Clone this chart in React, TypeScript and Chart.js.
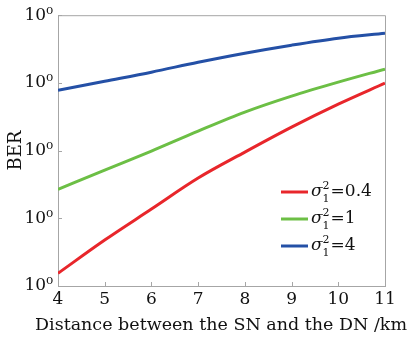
import { useEffect, useRef } from 'react';
import { Chart, registerables } from 'chart.js';
Chart.register(...registerables);

const distances = [4, 5, 6, 7, 8, 9, 10, 11];
const berSigma04 = [1.54e-4, 4.78e-4, 1.37e-3, 3.93e-3, 9.5e-3, 0.0222, 0.0485, 0.099];
const berSigma1 = [0.00267, 0.00515, 0.00984, 0.0194, 0.037, 0.0637, 0.1026, 0.16];
const berSigma4 = [0.078, 0.106, 0.144, 0.202, 0.275, 0.361, 0.458, 0.542];
const seriesValues = ['0.4', '1', '4'];
const seriesColors = ['#e8262b', '#6cbf45', '#2450a6'];
const yTickValues = [1e-4, 1e-3, 1e-2, 1e-1, 1];
const yTickLabels = ['10⁰', '10⁰', '10⁰', '10⁰', '10⁰'];
const xTickValues = [4, 5, 6, 7, 8, 9, 10, 11];
const xTitle = 'Distance between the SN and the DN /km';
const yTitle = 'BER';

const FONT = "'DejaVu Serif', serif";
const GRAY = '#a6a6a6';

const framePlugin = {
  id: 'frame',
  afterDraw(chart: any) {
    const { ctx, chartArea: a, scales } = chart;
    ctx.save();
    ctx.strokeStyle = GRAY;
    ctx.lineWidth = 1;
    ctx.beginPath();
    ctx.moveTo(a.left, a.top + 0.5);
    ctx.lineTo(a.right + 0.5, a.top + 0.5);
    ctx.lineTo(a.right + 0.5, a.bottom);
    for (const v of xTickValues) {
      const px = Math.round(scales.x.getPixelForValue(v)) + 0.5;
      ctx.moveTo(px, a.bottom);
      ctx.lineTo(px, a.bottom - 4);
    }
    for (const v of yTickValues) {
      const py = Math.round(scales.y.getPixelForValue(v)) + 0.5;
      ctx.moveTo(a.left, py);
      ctx.lineTo(a.left + 4, py);
    }
    ctx.stroke();

    // x-axis title, sized to the reference width
    ctx.fillStyle = '#111';
    ctx.textAlign = 'center';
    ctx.textBaseline = 'middle';
    ctx.font = `18px ${FONT}`;
    const natural = ctx.measureText(xTitle).width;
    const size = Math.min(19, (18 * 372) / natural);
    ctx.font = `${size.toFixed(2)}px ${FONT}`;
    ctx.fillText(xTitle, 221, 325);

    // legend
    const x0 = 281;
    const rows = [192, 219, 246];
    seriesValues.forEach((val, i) => {
      const y = rows[i];
      ctx.strokeStyle = seriesColors[i];
      ctx.lineWidth = 3;
      ctx.beginPath();
      ctx.moveTo(x0, y);
      ctx.lineTo(x0 + 27, y);
      ctx.stroke();
      ctx.fillStyle = '#111';
      ctx.textBaseline = 'middle';
      ctx.textAlign = 'left';
      let tx = x0 + 30;
      ctx.font = `italic 17px ${FONT}`;
      ctx.fillText('σ', tx, y);
      tx += ctx.measureText('σ').width;
      ctx.font = `11px ${FONT}`;
      ctx.fillText('2', tx, y - 6);
      ctx.fillText('1', tx, y + 7);
      tx += ctx.measureText('2').width + 1;
      ctx.font = `17px ${FONT}`;
      ctx.fillText('=' + val, tx, y);
    });
    ctx.restore();
  },
};

export default function App() {
  const ref = useRef<HTMLCanvasElement>(null);
  useEffect(() => {
    const mk = (vals: number[], i: number) => ({
      label: 'σ1²=' + seriesValues[i],
      data: distances.map((d, k) => ({ x: d, y: vals[k] })),
      borderColor: seriesColors[i],
      backgroundColor: seriesColors[i],
      borderWidth: 3,
      pointRadius: 0,
      cubicInterpolationMode: 'monotone' as const,
    });
    const chart = new Chart(ref.current!, {
      type: 'line',
      data: { datasets: [mk(berSigma04, 0), mk(berSigma1, 1), mk(berSigma4, 2)] },
      plugins: [framePlugin],
      options: {
        animation: false,
        responsive: false,
        layout: { padding: { left: 0, right: 28, top: 15, bottom: 0 } },
        plugins: { legend: { display: false }, tooltip: { enabled: false } },
        scales: {
          x: {
            type: 'linear',
            min: 4,
            max: 11,
            afterBuildTicks: (s: any) => {
              s.ticks = xTickValues.map((v) => ({ value: v }));
            },
            afterFit: (s: any) => {
              s.height = 56;
            },
            grid: { display: false, drawTicks: false },
            border: { display: true, color: GRAY, width: 1 },
            ticks: {
              color: '#111',
              font: { family: FONT, size: 17 },
              padding: 3,
              maxRotation: 0,
              callback: (v: any) => String(v),
            },
            title: { display: false },
          },
          y: {
            type: 'logarithmic',
            min: 1e-4,
            max: 1,
            afterBuildTicks: (s: any) => {
              s.ticks = yTickValues.map((v) => ({ value: v }));
            },
            afterFit: (s: any) => {
              s.width = 58;
            },
            grid: { display: false, drawTicks: false },
            border: { display: true, color: GRAY, width: 1 },
            ticks: {
              color: '#111',
              font: { family: FONT, size: 17 },
              padding: 5,
              callback: (v: any) => {
                const i = yTickValues.findIndex((t) => Math.abs(Math.log10(t) - Math.log10(v)) < 1e-6);
                return i >= 0 ? yTickLabels[i] : '';
              },
            },
            title: {
              display: true,
              text: yTitle,
              color: '#111',
              font: { family: FONT, size: 18 },
              padding: { top: 6, bottom: 0 },
            },
          },
        },
      },
    });
    return () => chart.destroy();
  }, []);
  return (
    <div style={{ position: 'fixed', left: 0, top: 0, width: 413, height: 342, background: '#fff' }}>
      <canvas ref={ref} width={413} height={342} style={{ width: 413, height: 342 }} />
    </div>
  );
}
